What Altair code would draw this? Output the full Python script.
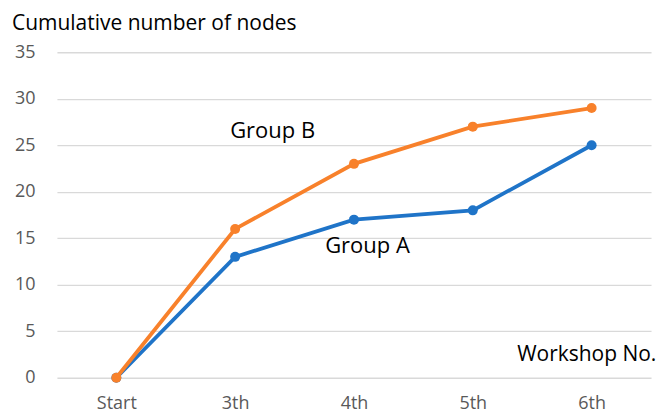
import altair as alt
import pandas as pd

categories = ["Start", "3th", "4th", "5th", "6th"]
group_a = [0, 13, 17, 18, 25]
group_b = [0, 16, 23, 27, 29]
y_ticks = [0, 5, 10, 15, 20, 25, 30, 35]

rows = []
for c, a in zip(categories, group_a):
    rows.append({"cat": c, "value": a, "group": "Group A"})
for c, b in zip(categories, group_b):
    rows.append({"cat": c, "value": b, "group": "Group B"})
df = pd.DataFrame(rows)

FONT = "Open Sans"

x = alt.X("cat:N", sort=categories, title=None,
          scale=alt.Scale(paddingInner=0, paddingOuter=0),
          axis=alt.Axis(labelAngle=0, domain=False, ticks=False, grid=False,
                        labelFont=FONT, labelFontSize=18, labelColor="#595959",
                        labelPadding=17))
y = alt.Y("value:Q", title=None,
          scale=alt.Scale(domain=[0, 35], nice=False),
          axis=alt.Axis(values=y_ticks, domain=False, ticks=False, grid=True,
                        gridColor="#d9d9d9", gridWidth=1.3,
                        labelFont=FONT, labelFontSize=18, labelColor="#595959",
                        labelPadding=22))
color = alt.Color("group:N", legend=None,
                  scale=alt.Scale(domain=["Group A", "Group B"],
                                  range=["#1f74c8", "#f8812b"]))

pt = alt.OverlayMarkDef(size=100, filled=True, opacity=1)
line_a = alt.Chart(df[df.group == "Group A"]).mark_line(strokeWidth=3.8, point=pt).encode(x=x, y=y, color=color)
line_b = alt.Chart(df[df.group == "Group B"]).mark_line(strokeWidth=3.8, point=pt).encode(x=x, y=y, color=color)

def label(txt, px, py, align="center", size=22, baseline="middle"):
    return alt.Chart(pd.DataFrame({"t": [txt]})).mark_text(
        font=FONT, fontSize=size, color="#000000", align=align, baseline=baseline
    ).encode(text="t:N", x=alt.value(px), y=alt.value(py))

chart = alt.layer(
    line_a, line_b,
    label("Group B", 216, 79),
    label("Group A", 311, 194),
    label("Workshop No.", 461, 303, align="left", size=21),
    label("Cumulative number of nodes", -45, -22, align="left", size=21,
          baseline="alphabetic"),
).properties(
    width=595, height=326,
    autosize=alt.AutoSizeParams(type="none"),
    padding={"left": 49, "top": 44, "right": 12, "bottom": 40},
).configure_view(stroke=None)

chart.save("out.html", embed_options={"renderer": "svg", "actions": False})
